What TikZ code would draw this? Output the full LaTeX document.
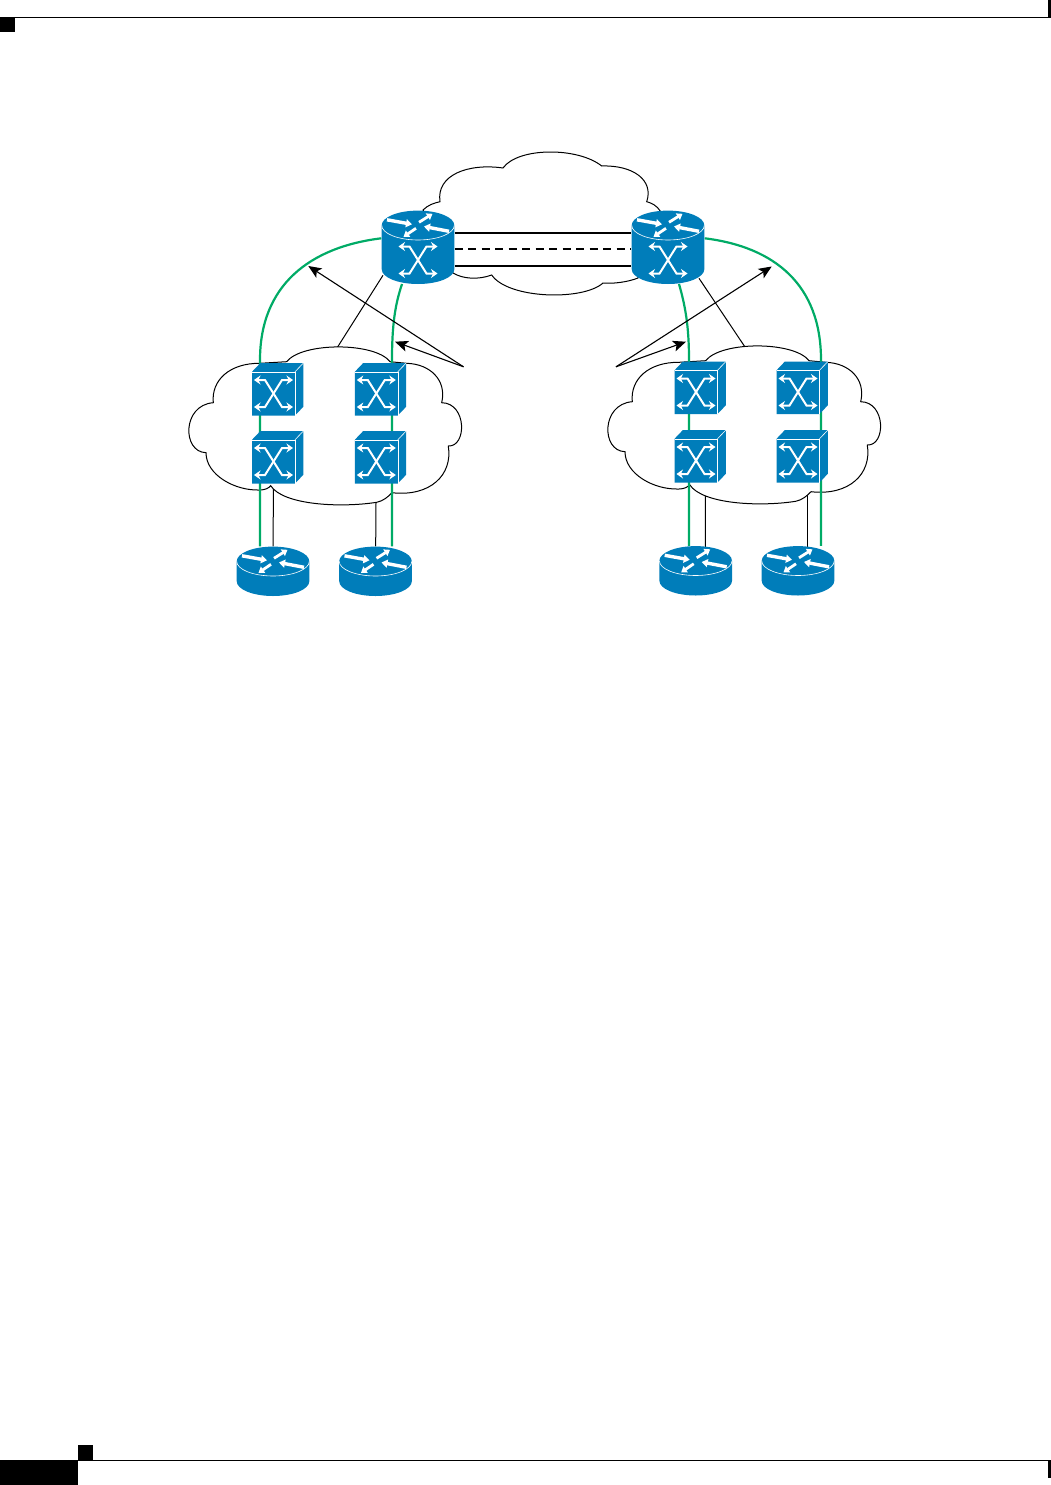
\documentclass[tikz,border=0pt]{standalone}
\usetikzlibrary{arrows.meta}
\definecolor{ciscoblue}{RGB}{0,125,186}
\definecolor{linkgreen}{RGB}{0,171,102}
\tikzset{
	devbox/.style={inner sep=0pt,minimum width=#1,minimum height=#1},
	devbox/.default=43pt,
	blackline/.style={line width=1pt},
	greenline/.style={linkgreen,line width=2.2pt},
	corelink/.style={line width=1.9pt},
	callout/.style={line width=1.1pt,-{Stealth[length=13pt,width=11pt,inset=3pt]}},
	whiteedge/.style={white,line width=0.6pt},
	pics/routerarrows/.style={code={
		\draw[white,line width=3.4pt,-{Triangle[length=6pt,width=8pt]}] (-31,-5.5) -- (-6,-1);
		\draw[white,line width=3.4pt,-{Triangle[length=6pt,width=8pt]}] (31,6) -- (6,1.2);
		\draw[white,line width=2.8pt,-{Triangle[length=5.5pt,width=7.5pt]}] (1,-3) -- (14.5,-11.5);
		\draw[white,line width=2.8pt,-{Triangle[length=5.5pt,width=7.5pt]}] (-2,3) -- (-14.5,11.5);
	}},
	pics/xarrows/.style={code={
		\draw[white,line width=2pt,{Stealth[length=6.5pt,width=9pt]}-{Stealth[length=6.5pt,width=9pt]}] (-19.5,-13.5) -- (-8.5,-13.5) -- (8.5,13.5) -- (19.5,13.5);
		\draw[white,line width=2pt,{Stealth[length=6.5pt,width=9pt]}-{Stealth[length=6.5pt,width=9pt]}] (19.5,-13.5) -- (8.5,-13.5) -- (-8.5,13.5) -- (-19.5,13.5);
	}},
	pics/xswitch/.style={code={
		\fill[ciscoblue] (-21.5,-21.7) -- (-13.1,-30.5) -- (29.9,-30.5) -- (29.9,13.2) -- (21.5,22) -- (-21.5,22) -- cycle;
		\draw[whiteedge] (-21.5,-21.7) -- (21.5,-21.7) -- (21.5,22);
		\draw[whiteedge] (21.5,-21.7) -- (29.9,-30.5);
		\pic {xarrows};
	}},
	pics/edgerouter/.style={code={
		\fill[ciscoblue] (-36.3,-9.7) -- (-36.3,10.3) arc[start angle=180,end angle=360,x radius=36.3pt,y radius=14.7pt] -- (36.3,-9.7) -- cycle;
		\fill[ciscoblue] (0,-9.7) ellipse[x radius=36.3pt,y radius=14.7pt];
		\draw[whiteedge] (-36.3,-9.7) arc[start angle=180,end angle=360,x radius=36.3pt,y radius=14.7pt];
		\pic at (0,-9.7) {routerarrows};
	}},
	pics/corerouter/.style={code={
		\fill[ciscoblue] (-36.3,-22) -- (-36.3,22) arc[start angle=180,end angle=360,x radius=36.3pt,y radius=14.7pt] -- (36.3,-22) -- cycle;
		\fill[ciscoblue] (0,-22) ellipse[x radius=36.3pt,y radius=14.7pt];
		\draw[whiteedge] (-36.3,-22) arc[start angle=180,end angle=360,x radius=36.3pt,y radius=14.7pt];
		\pic at (0,-22) {routerarrows};
		\pic at (0,12.7) {xarrows};
	}},
	pics/sidecloud/.style={code={
		\draw[blackline,fill=white] (-65,-61.7) .. controls (-95,-62) and (-114,-45) .. (-111.7,-22.3)
			.. controls (-143,-20) and (-143,27) .. (-119,27.7)
			.. controls (-119,50) and (-90,66) .. (-65,65)
			.. controls (-60,65) and (-56,63) .. (-54.3,60.7)
			.. controls (-42,80) and (15,83) .. (51.7,77.3)
			.. controls (58,76) and (63,72) .. (67,67.7)
			.. controls (105,72) and (128,50) .. (123.3,21)
			.. controls (142,22) and (142,-22) .. (116.7,-22.3)
			.. controls (122,-45) and (105,-61) .. (81.7,-61.7)
			-- (65,-63.3)
			.. controls (50,-83) and (-23,-83) .. (-38.3,-63.3) -- cycle;
	}},
	pics/topcloud/.style={code={
		\draw[blackline,fill=white] (-125,-15) .. controls (-120,-20) and (-114,-22) .. (-108,-23.3)
			.. controls (-112,-50) and (-80,-62) .. (-45,-57)
			.. controls (-30,-78) and (30,-78) .. (53.7,-59)
			.. controls (85,-60) and (106,-45) .. (98.7,-23.3)
			.. controls (104,-22) and (109,-19) .. (112,-14.3)
			-- (90,53)
			.. controls (80,57) and (65,59) .. (55,58)
			.. controls (35,76) and (-40,74) .. (-56.3,50)
			.. controls (-70,55) and (-85,54) .. (-95,48) -- cycle;
	}},
}
\begin{document}
\begin{tikzpicture}[x=1pt,y=-1pt]
	\useasboundingbox (0,0) rectangle (1051,1485);
	% page furniture
	\fill (0,17) rectangle (15,32);
	\fill (1048,0) rectangle (1051,17.8);
	\draw[line width=1pt] (0,17.3) -- (1048,17.3);
	\fill (0,1460) rectangle (78,1485);
	\fill (78,1445) rectangle (93,1460);
	\fill (1048,1460) rectangle (1051,1478);
	\draw[line width=1pt] (78,1460.3) -- (1048,1460.3);

	% device places
	\node[devbox=73pt] (coreL) at (418,247.3) {};
	\node[devbox=73pt] (coreR) at (668,247.3) {};
	\node[devbox] (swA1) at (273.5,393.5) {};
	\node[devbox] (swA2) at (273.5,461.5) {};
	\node[devbox] (swB1) at (376.3,393.5) {};
	\node[devbox] (swB2) at (376.3,461.5) {};
	\node[devbox] (swC1) at (696,392) {};
	\node[devbox] (swC2) at (696,460.5) {};
	\node[devbox] (swD1) at (798,392) {};
	\node[devbox] (swD2) at (798,460.5) {};
	\node[devbox=49pt] (rtA) at (273,571) {};
	\node[devbox=49pt] (rtB) at (375.5,571) {};
	\node[devbox=49pt] (rtC) at (695.7,570.5) {};
	\node[devbox=49pt] (rtD) at (798,570.5) {};
	\coordinate (cloudLtop) at (335.7,350);
	\coordinate (cloudRtop) at (747,350);
	\coordinate (noteL) at (463.5,366.8);
	\coordinate (noteR) at (616,366.8);
	\coordinate (tipL1) at (308.3,266);
	\coordinate (tipL2) at (395,341.7);
	\coordinate (tipR1) at (771.7,266.5);
	\coordinate (tipR2) at (686,341.7);

	% black links go behind the clouds
	\draw[blackline] (coreL) ++(-35,28) -- (cloudLtop);
	\draw[blackline] (coreR) ++(31,31) -- (cloudRtop);
	\draw[blackline] (swA2) -- (rtA);
	\draw[blackline] (swB2) -- (rtB);
	\draw[blackline] ([xshift=9.5pt]swC2.center) -- ([xshift=9.5pt]rtC.center);
	\draw[blackline] ([xshift=9.3pt]swD2.center) -- ([xshift=9.3pt]rtD.center);

	\pic at (548,225) {topcloud};
	\pic at (325,425) {sidecloud};
	\pic at (744,424) {sidecloud};

	% green paths
	\draw[greenline] ([yshift=9pt]coreL.west) .. controls (310,247) and (260,285) .. (260,360) -- ([xshift=-13pt]rtA.north);
	\draw[greenline] ([xshift=-16pt]coreL.south) .. controls (395,305) and (392,325) .. (392,360) -- ([xshift=16.5pt]rtB.north);
	\draw[greenline] ([yshift=9pt]coreR.east) .. controls (775,247) and (821,285) .. (821,360) -- ([xshift=23pt]rtD.north);
	\draw[greenline] ([xshift=11pt]coreR.south) .. controls (685,305) and (689,325) .. (689,360) -- ([xshift=-6.7pt]rtC.north);

	% core links
	\draw[corelink] ([yshift=14.6pt]coreL.east) -- ([yshift=14.6pt]coreR.west);
	\draw[corelink,dash pattern=on 8pt off 5.5pt] ([yshift=-2pt]coreL.east) -- ([yshift=-2pt]coreR.west);
	\draw[corelink] ([yshift=-18.7pt]coreL.east) -- ([yshift=-18.7pt]coreR.west);

	% devices
	\pic at (coreL) {corerouter};
	\pic at (coreR) {corerouter};
	\pic at (swA1) {xswitch};
	\pic at (swA2) {xswitch};
	\pic at (swB1) {xswitch};
	\pic at (swB2) {xswitch};
	\pic at (swC1) {xswitch};
	\pic at (swC2) {xswitch};
	\pic at (swD1) {xswitch};
	\pic at (swD2) {xswitch};
	\pic at (rtA) {edgerouter};
	\pic at (rtB) {edgerouter};
	\pic at (rtC) {edgerouter};
	\pic at (rtD) {edgerouter};

	% callout arrows
	\draw[callout] (noteL) -- (tipL1);
	\draw[callout] (noteL) -- (tipL2);
	\draw[callout] (noteR) -- (tipR1);
	\draw[callout] (noteR) -- (tipR2);
\end{tikzpicture}
\end{document}
